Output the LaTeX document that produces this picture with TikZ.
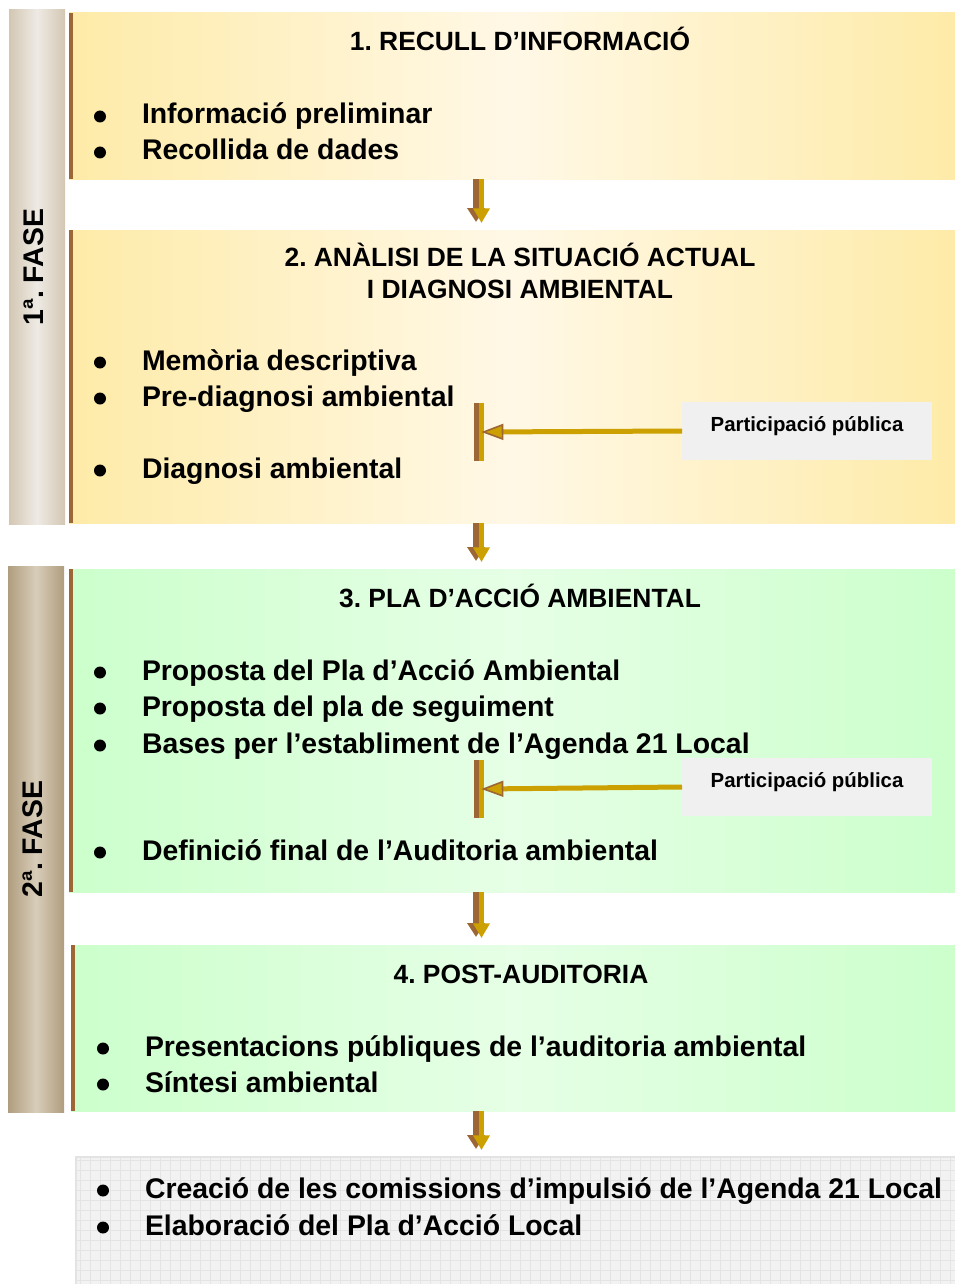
\documentclass[tikz,border=0pt]{standalone}
\usepackage{fontspec}
\setmainfont{Liberation Sans}
\usetikzlibrary{arrows.meta,calc}
\definecolor{yl}{HTML}{FEEBA8}
\definecolor{ym}{HTML}{FFF8E6}
\definecolor{gl}{HTML}{CCFFCC}
\definecolor{gm}{HTML}{E6FFE6}
\definecolor{fa}{HTML}{D3C7B3}
\definecolor{fb}{HTML}{EEEAE4}
\definecolor{fc}{HTML}{B09D7F}
\definecolor{fd}{HTML}{D8CDB9}
\definecolor{brn}{HTML}{9C6734}
\definecolor{gld}{HTML}{CCA000}
\definecolor{pbg}{HTML}{F0F0F0}
\definecolor{gbg}{HTML}{F2F2F2}
\definecolor{gln}{HTML}{E4E4E4}
\frenchspacing
\newcommand\bitem[4]{\fill (#2-42,#3-7.5) circle[radius=4.5pt]; \node[itm] (#1) at (#2,#3) {#4};}
\begin{document}
\begin{tikzpicture}[x=0.75pt,y=-0.75pt,
  every node/.style={inner sep=0pt, outer sep=0pt},
  box/.style={anchor=north west, shading=axis, shading angle=90},
  ybox/.style={box, left color=yl, right color=yl, middle color=ym},
  gbox/.style={box, left color=gl, right color=gl, middle color=gm},
  fase1/.style={box, left color=fa, right color=fa, middle color=fb},
  fase2/.style={box, left color=fc, right color=fc, middle color=fd},
  itm/.style={anchor=base west, font=\bfseries\fontsize{21.3}{25}\selectfont},
  ttl/.style={anchor=base, font=\bfseries\fontsize{19.8}{23}\selectfont},
  fasetxt/.style={rotate=90, font=\bfseries\fontsize{21.3}{25}\selectfont},
  pbox/.style={anchor=north west, fill=pbg, minimum width=187.5pt, minimum height=43.5pt},
  ptxt/.style={font=\bfseries\fontsize{15.3}{18}\selectfont},
  tbar/.style={anchor=north west, fill=gld, minimum width=7.5pt, minimum height=43.5pt},
  parr/.style={draw=gld, line width=3.75pt, -{Triangle[length=16.5pt, width=12pt, fill=gld, color=brn, line width=1.2pt]}},
  darrb/.style={draw=brn, line width=4.5pt, -{Triangle[length=10.5pt, width=12.75pt]}},
  darrg/.style={draw=gld, line width=3.75pt, -{Triangle[length=11pt, width=12pt]}}
]
\useasboundingbox (0,0) rectangle (955,1284);
% phase bars
\node[fase1, minimum width=42pt, minimum height=385.5pt] (f1) at (9,10) {};
\node[fase2, minimum width=42pt, minimum height=409.5pt] (f2) at (8,566) {};
\node[fasetxt] (f1t) at ($(f1.center)+(-3,0)$) {1ª. FASE};
\node[fasetxt] (f2t) at ($(f2.center)+(-3,0)$) {2ª. FASE};
% boxes
\node[ybox, minimum width=664.5pt, minimum height=124.5pt] (b1) at (69,13) {};
\node[ybox, minimum width=664.5pt, minimum height=219.75pt] (b2) at (69,230) {};
\node[gbox, minimum width=664.5pt, minimum height=242.25pt] (b3) at (69,569) {};
\node[gbox, minimum width=663pt, minimum height=124.5pt] (b4) at (71,945) {};
\node[anchor=north west, fill=gbg, minimum width=659.25pt, minimum height=95.25pt] (b5) at (76,1157) {};
\draw[gln, step=7.5pt] (b5.north west) grid (b5.south east);
\draw[gray!22, line width=1pt] (b5.south west) -- (b5.north west) -- (b5.north east);
\foreach \b in {b1,b2,b3,b4}{\fill[brn] (\b.north west) rectangle ([xshift=3pt]\b.south west);}
% titles
\node[ttl] (t1) at (520,51) {1. RECULL D’INFORMACIÓ};
\node[ttl] (t2a) at (520,266) {2. ANÀLISI DE LA SITUACIÓ ACTUAL};
\node[ttl] (t2b) at (520,298) {I DIAGNOSI AMBIENTAL};
\node[ttl] (t3) at (520,607) {3. PLA D’ACCIÓ AMBIENTAL};
\node[ttl] (t4) at (521,983) {4. POST-AUDITORIA};
% items
\bitem{i1}{142}{124}{Informació preliminar}
\bitem{i2}{142}{160}{Recollida de dades}
\bitem{i3}{142}{370}{Memòria descriptiva}
\bitem{i4}{142}{406}{Pre-diagnosi ambiental}
\bitem{i5}{142}{478}{Diagnosi ambiental}
\bitem{i6}{142}{680}{Proposta del Pla d’Acció Ambiental}
\bitem{i7}{142}{716}{Proposta del pla de seguiment}
\bitem{i8}{142}{753}{Bases per l’establiment de l’Agenda 21 Local}
\bitem{i9}{142}{860}{Definició final de l’Auditoria ambiental}
\bitem{i10}{145}{1056}{Presentacions públiques de l’auditoria ambiental}
\bitem{i11}{145}{1092}{Síntesi ambiental}
\bitem{i12}{145}{1198}{Creació de les comissions d’impulsió de l’Agenda 21 Local}
\bitem{i13}{145}{1235}{Elaboració del Pla d’Acció Local}
% participation
\node[pbox] (p1) at (682,402) {};
\node[pbox] (p2) at (682,758) {};
\node[ptxt] (p1t) at ($(p1.center)+(0,-5)$) {Participació pública};
\node[ptxt] (p2t) at ($(p2.center)+(0,-5)$) {Participació pública};
\node[tbar] (bar1) at (474,403) {};
\node[tbar] (bar2) at (474,760) {};
\fill[brn] (bar1.north west) rectangle (bar1.south);
\fill[brn] (bar2.north west) rectangle (bar2.south);
\draw[parr] (p1.west) -- ([xshift=-2pt]bar1.east);
\draw[parr] (p2.west) -- ([xshift=-2pt]bar2.east);
% down arrows
\coordinate (axb) at (476,0);
\coordinate (axg) at (481.5,0);
\foreach \a/\b in {b1/b2,b2/b3,b3/b4,b4/b5}{
  \draw[darrb] (\a.south -| axb) -- ($(\b.north -| axb)+(0,-8)$);
  \draw[darrg] (\a.south -| axg) -- ($(\b.north -| axg)+(0,-7)$);
}
\end{tikzpicture}
\end{document}
